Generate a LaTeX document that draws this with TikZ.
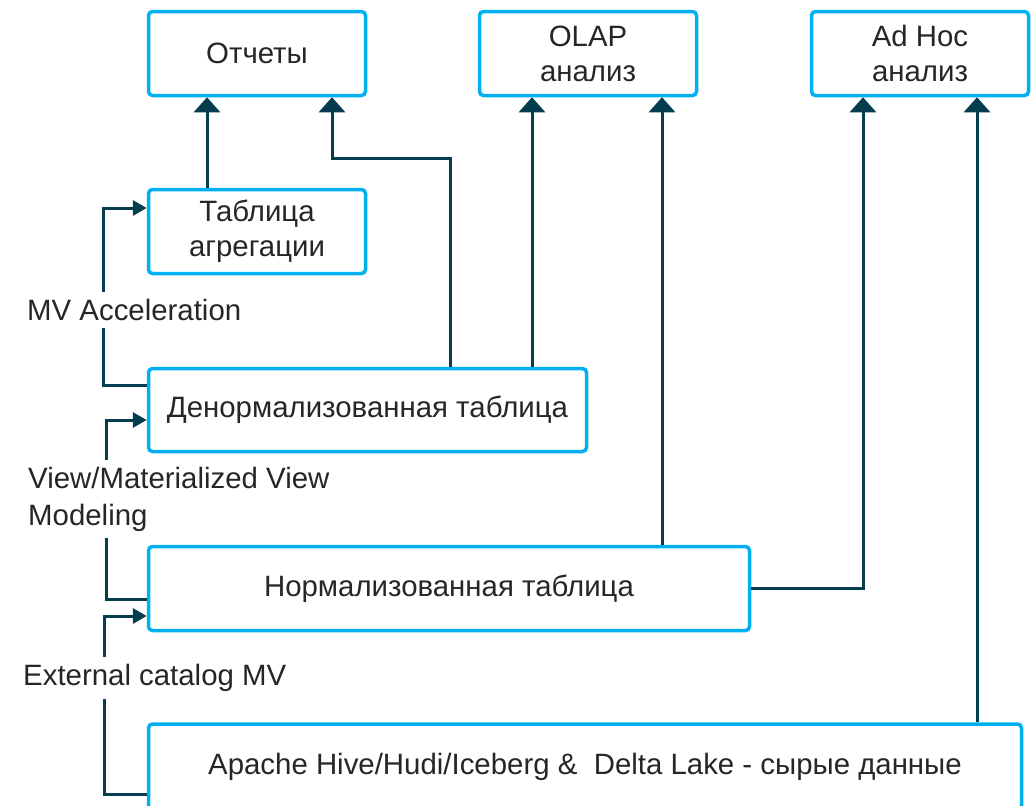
\documentclass[tikz,border=0pt]{standalone}
\usepackage{fontspec}
\setmainfont{Liberation Sans}
\usetikzlibrary{arrows.meta}
\definecolor{boxcyan}{RGB}{0,176,240}
\definecolor{linkteal}{RGB}{4,62,78}
\definecolor{ink}{RGB}{38,38,38}

\begin{document}
\begin{tikzpicture}[x=1pt,y=-1pt,
  box/.style={draw=boxcyan, line width=3.5pt, rounded corners=4pt, fill=white,
    text=ink, font=\fontsize{29.4}{35}\selectfont, align=center, inner sep=0pt},
  conn/.style={draw=linkteal, line width=3pt},
  up/.style={conn, -{Triangle[width=26pt,length=15pt]}},
  side/.style={conn, -{Triangle[width=15pt,length=14pt]}},
  lbl/.style={anchor=west, fill=white, text=ink, font=\fontsize{29.4}{37}\selectfont,
    align=left, inner xsep=0pt, inner ysep=7pt}
]
\useasboundingbox (0,0) rectangle (1031,806);
\clip (0,0) rectangle (1031,806);

% consumers
\node[box, minimum width=217pt, minimum height=84pt] (rep)   at (257,53.5) {Отчеты};
\node[box, minimum width=217pt, minimum height=84pt] (olap)  at (588,53.5) {OLAP\\анализ};
\node[box, minimum width=217pt, minimum height=84pt] (adhoc) at (920,53.5) {Ad Hoc\\анализ};

% table layers
\node[box, minimum width=217pt, minimum height=84pt] (agg)    at (257,231.5) {Таблица\\агрегации};
\node[box, minimum width=438pt, minimum height=83pt] (denorm) at (367.5,410) {Денормализованная таблица};
\node[box, minimum width=601pt, minimum height=84pt] (norm)   at (449,588.5) {Нормализованная таблица};
\node[box, minimum width=873pt, minimum height=86pt] (raw)    at (585,767) {Apache Hive/Hudi/Iceberg \&\ \ Delta Lake - сырые данные};

% upward data flows
\draw[up] ([xshift=-50pt]agg.north) -- ([xshift=-50pt]rep.south);
\draw[up] ([xshift=82.5pt]denorm.north) -- (450,158) -- (332,158) -- ([xshift=75pt]rep.south);
\draw[up] ([xshift=164.5pt]denorm.north) -- ([xshift=-56pt]olap.south);
\draw[up] ([xshift=213pt]norm.north) -- ([xshift=74pt]olap.south);
\draw[up] (norm.east) -| ([xshift=-57pt]adhoc.south);
\draw[up] ([xshift=392pt]raw.north) -- ([xshift=57pt]adhoc.south);

% build-up loops on the left
\draw[side] ([yshift=25pt]denorm.west) -| (103,208) -- ([yshift=23.5pt]agg.west);
\draw[side] ([yshift=-10.5pt]norm.west) -| (106,420) -- ([yshift=-10pt]denorm.west);
\draw[side] ([yshift=-27pt]raw.west) -| (104,616) -- ([yshift=-27.5pt]norm.west);

% loop labels
\node[lbl] (mvacc) at (27,310) {MV Acceleration};
\node[lbl] (vmv)   at (28,499) {View/Materialized View\\Modeling};
\node[lbl] (extmv) at (23,678) {External catalog MV};
\end{tikzpicture}
\end{document}
